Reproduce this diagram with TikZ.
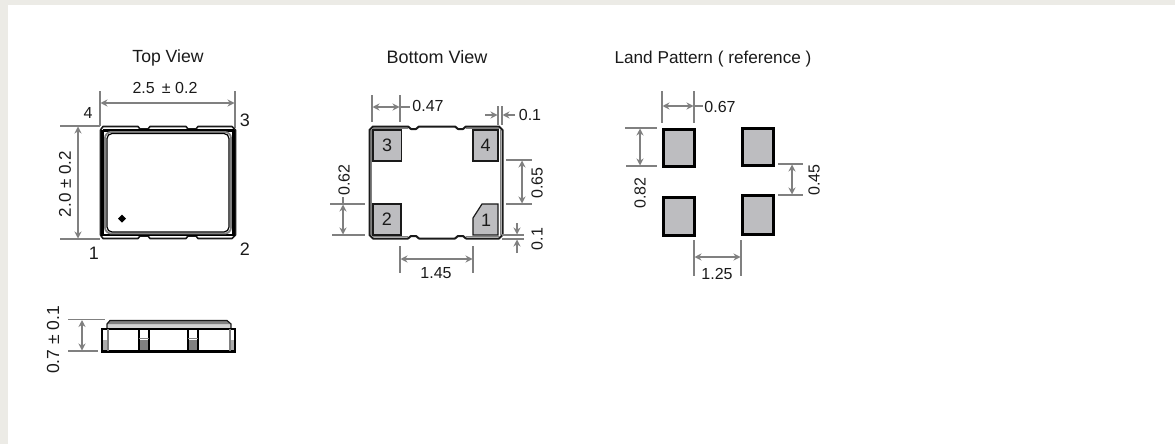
\documentclass[tikz,border=0pt]{standalone}
\usepackage{fontspec}
\setmainfont{Liberation Sans}
\usetikzlibrary{arrows.meta}
\definecolor{pagebg}{HTML}{ECEBE6}
\definecolor{dimgray}{HTML}{808080}
\definecolor{padgray}{HTML}{BDBDC0}
\definecolor{inkblack}{HTML}{1A1A1A}
\tikzset{
  ext/.style={draw=dimgray,line width=1.2pt},
  dimarrow/.style={draw=dimgray,line width=1.3pt,{Stealth[length=7pt,width=7pt]}-{Stealth[length=7pt,width=7pt]}},
  leader/.style={draw=dimgray,line width=1.3pt,-{Stealth[length=7pt,width=7pt]}},
  plainlead/.style={draw=dimgray,line width=1.3pt},
  title/.style={inner sep=0pt,text=inkblack,font=\fontsize{17.6}{19}\selectfont},
  dimtext/.style={inner sep=0pt,text=inkblack,font=\fontsize{16}{18}\selectfont},
  pintext/.style={inner sep=0pt,text=inkblack,font=\fontsize{18}{20}\selectfont},
  vert/.style={rotate=90},
  bodyline/.style={draw=inkblack,line width=2pt,line join=round},
  padbox/.style={draw=inkblack,fill=padgray,line width=1.2pt},
  landpad/.style={draw=black,fill=padgray,line width=3pt},
}
\begin{document}
\begin{tikzpicture}[x=1pt,y=-1pt]
\useasboundingbox (0,0) rectangle (1175,444);
\fill[pagebg] (0,0) rectangle (1175,5);
\fill[pagebg] (0,0) rectangle (8,444);

%% ---- Top view ----
\node[title] (tvtitle) at (168,58) {Top View};
\node[dimtext] (tvw) at (165,88) {2.5\, ± 0.2};
\node[dimtext,vert,font=\fontsize{17}{19}\selectfont] (tvh) at (65,184) {2.0 ± 0.2};
\node[pintext,font=\fontsize{16}{18}\selectfont] (tv4) at (88,113) {4};
\node[pintext] (tv3) at (245,120) {3};
\node[pintext] (tv1) at (94,253) {1};
\node[pintext] (tv2) at (245,249) {2};
\draw[ext] (100,91) -- (100,126);
\draw[ext] (235,91) -- (235,128);
\draw[dimarrow] (100.5,103) -- (234.5,103);
\draw[ext] (60,126) -- (100,126);
\draw[ext] (60,239) -- (100,239);
\draw[dimarrow] (78,126.5) -- (78,238.5);
\draw[bodyline,line width=1.6pt,fill=white]
  (103,126.5) -- (138,126.5) -- (140,129) -- (148,129) -- (150,126.5)
  -- (186,126.5) -- (188,129) -- (196,129) -- (198,126.5)
  -- (232,126.5) -- (235.5,130) -- (235.5,235) -- (232,238.5)
  -- (198,238.5) -- (196,236) -- (188,236) -- (186,238.5)
  -- (150,238.5) -- (148,236) -- (140,236) -- (138,238.5)
  -- (103,238.5) -- (100.5,235) -- (100.5,130) -- cycle;
\draw[draw=black,line width=2.4pt] (102.5,130.5) -- (233.5,130.5);
\draw[draw=black,line width=2.2pt] (102.5,130) -- (102.5,236);
\draw[draw=black,line width=2.2pt] (233.5,130) -- (233.5,236);
\draw[draw=black,line width=1.6pt] (103,235) -- (233,235);
\draw[draw=gray,line width=1.8pt,rounded corners=6pt,fill=white] (105,132) rectangle (231,233.5);
\draw[draw=black,line width=1.2pt,rounded corners=5pt,fill=white] (107,133.5) rectangle (229,232);
\fill[black] (122,214.5) -- (126,218.5) -- (122,222.5) -- (118,218.5) -- cycle;

%% ---- Side view ----
\node[dimtext,vert,font=\fontsize{17.5}{19}\selectfont] (svh) at (53,340) {0.7 ± 0.1};
\draw[ext] (68,319.5) -- (105,319.5);
\draw[ext] (68,351) -- (98,351);
\draw[dimarrow] (82,320) -- (82,350.5);
\fill[gray!35] (107,324) rectangle (231,328);
\fill[gray] (110,320) -- (227,320) -- (230,324) -- (107,324) -- cycle;
\draw[draw=inkblack,line width=1.2pt] (107,328) -- (107,324) -- (110,320.5) -- (227,320.5) -- (231,324) -- (231,328);
\draw[draw=black,line width=2.2pt,fill=white] (102,329) rectangle (235,351.5);
\fill[gray!65] (103,340) rectangle (108,350);
\fill[gray!65] (230,340) rectangle (234,350);
\fill[gray] (140,340) rectangle (148,350);
\fill[gray] (189,340) rectangle (197,350);
\draw[draw=gray,line width=1.2pt] (108,329) -- (108,351);
\draw[draw=gray,line width=1.2pt] (230,329) -- (230,351);
\draw[draw=black,line width=1.4pt] (139,329) -- (139,351);
\draw[draw=black,line width=1.4pt] (149,329) -- (149,351);
\draw[draw=black,line width=1.4pt] (188,329) -- (188,351);
\draw[draw=black,line width=1.4pt] (198,329) -- (198,351);
\draw[draw=gray,line width=1pt] (139,338.5) -- (149,338.5);
\draw[draw=gray,line width=1pt] (188,338.5) -- (198,338.5);

%% ---- Bottom view ----
\node[title,font=\fontsize{18}{20}\selectfont] (bvtitle) at (437,57) {Bottom View};
\draw[bodyline,fill=white]
  (373,126.5) -- (408,126.5) -- (411,129) -- (416,129) -- (419,126.5)
  -- (455,126.5) -- (458,129) -- (463,129) -- (466,126.5)
  -- (499,126.5) -- (502.5,130) -- (502.5,235) -- (499,238.5)
  -- (466,238.5) -- (463,236) -- (458,236) -- (455,238.5)
  -- (419,238.5) -- (416,236) -- (411,236) -- (408,238.5)
  -- (373,238.5) -- (369.5,235) -- (369.5,130) -- cycle;
\draw[padbox] (373,130) rectangle (401.5,161) node[midway,pintext,name=bv3] {3};
\draw[padbox] (473,130) rectangle (498,161) node[midway,pintext,name=bv4] {4};
\draw[padbox] (373,204) rectangle (401,235) node[midway,pintext,name=bv2] {2};
\draw[padbox] (473,235) -- (473,218) -- (482,204) -- (498,204) -- (498,235) -- cycle;
\node[pintext] (bv1) at (486,220) {1};
\draw[draw=gray,line width=1.5pt] (500.5,130) -- (500.5,235);
\draw[draw=gray,line width=1.5pt] (371.5,130) -- (371.5,235);
\draw[draw=gray,line width=1.2pt] (373,128.3) -- (408,128.3);
\draw[draw=gray,line width=1.2pt] (466,128.3) -- (499,128.3);
\draw[draw=gray,line width=1.2pt] (373,236.7) -- (408,236.7);
\draw[draw=gray,line width=1.2pt] (466,236.7) -- (499,236.7);
% 0.47
\draw[ext] (372,95) -- (372,122);
\draw[ext] (400,95) -- (400,122);
\draw[dimarrow] (372.5,107) -- (399.5,107);
\draw[plainlead] (400,107) -- (410,107);
\node[dimtext] (d047) at (428,106) {0.47};
% 0.1 top
\draw[ext] (498,106) -- (498,125);
\draw[ext] (502,106) -- (502,125);
\draw[leader] (485,115) -- (497.5,115);
\draw[leader] (515,115) -- (502.5,115);
\node[dimtext] (d01a) at (530,115) {0.1};
% 0.62
\draw[ext] (330,204) -- (365,204);
\draw[ext] (332,235) -- (365,235);
\draw[dimarrow] (343,204.5) -- (343,234.5);
\draw[plainlead] (343,197) -- (343,204);
\node[dimtext,vert] (d062) at (344,180) {0.62};
% 0.65
\draw[ext] (506,160) -- (532,160);
\draw[ext] (506,204) -- (532,204);
\draw[dimarrow] (522,160.5) -- (522,203.5);
\node[dimtext,vert] (d065) at (537,183) {0.65};
% 0.1 bottom
\draw[ext] (502,235) -- (524,235);
\draw[ext] (502,239) -- (524,239);
\draw[leader] (517,223) -- (517,234.5);
\draw[leader] (517,253) -- (517,239.5);
\node[dimtext,vert] (d01b) at (537,239) {0.1};
% 1.45
\draw[ext] (400,246) -- (400,273);
\draw[ext] (473,246) -- (473,273);
\draw[dimarrow] (400.5,259) -- (472.5,259);
\node[dimtext] (d145) at (436,273) {1.45};

%% ---- Land pattern ----
\node[title,font=\fontsize{17.2}{19}\selectfont] (lptitle) at (713,59) {Land Pattern ( reference )};
\draw[landpad] (663,129) rectangle (694,166);
\draw[landpad] (742,128) rectangle (773,165);
\draw[landpad] (663,197) rectangle (694,235);
\draw[landpad] (742,195.5) rectangle (773,234);
% 0.67
\draw[ext] (662,91) -- (662,123);
\draw[ext] (694,91) -- (694,123);
\draw[dimarrow] (662.5,106) -- (693.5,106);
\draw[plainlead] (694,106) -- (703,106);
\node[dimtext] (d067) at (720,107) {0.67};
% 0.82
\draw[ext] (625,128) -- (657,128);
\draw[ext] (626,166) -- (657,166);
\draw[dimarrow] (640,128.5) -- (640,165.5);
\node[dimtext,vert] (d082) at (640,193) {0.82};
% 0.45
\draw[ext] (778,164) -- (803,164);
\draw[ext] (778,195) -- (803,195);
\draw[dimarrow] (792,164.5) -- (792,194.5);
\node[dimtext,vert] (d045) at (814,180) {0.45};
% 1.25
\draw[ext] (694,240) -- (694,276);
\draw[ext] (741,240) -- (741,276);
\draw[dimarrow] (694.5,257) -- (740.5,257);
\node[dimtext] (d125) at (717,274) {1.25};
\end{tikzpicture}
\end{document}
